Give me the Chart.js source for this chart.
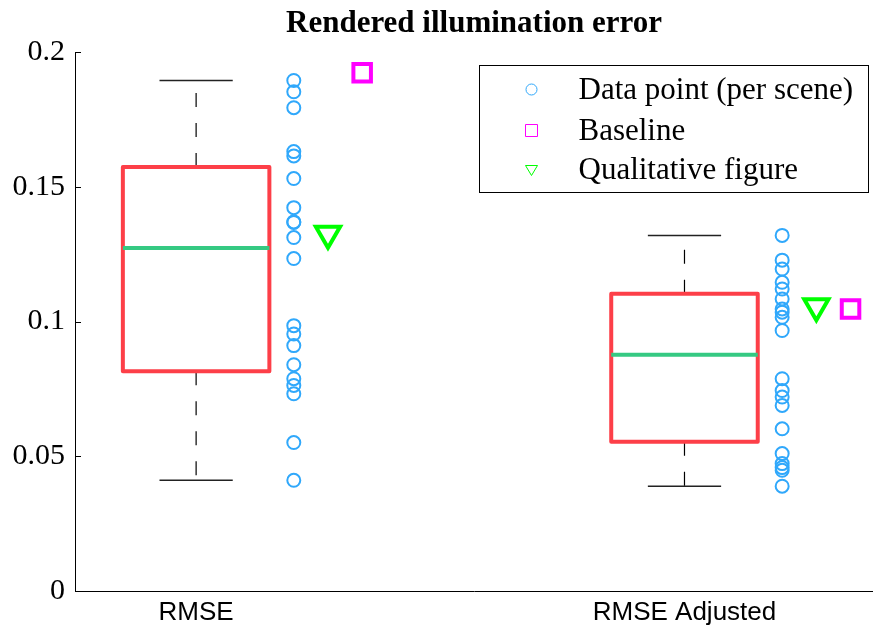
<!DOCTYPE html>
<html><head><meta charset="utf-8">
<script src="https://cdn.jsdelivr.net/npm/chart.js@4.4.0/dist/chart.umd.min.js"></script>
<style>html,body{margin:0;padding:0;background:#fff;overflow:hidden;}canvas{display:block;}</style>
</head><body><canvas id="c" width="873" height="630"></canvas>
<script>
const categories = ['RMSE', 'RMSE Adjusted'];
const rmsePoints = [0.1895, 0.1853, 0.1794, 0.1631, 0.1615, 0.1531, 0.1423, 0.1368, 0.1370, 0.1312,
                    0.1234, 0.0985, 0.0954, 0.0911, 0.0840, 0.0788, 0.0763, 0.0732, 0.0551, 0.0411];
const adjustedPoints = [0.1320, 0.1228, 0.1195, 0.1146, 0.1121, 0.1084, 0.1047, 0.1035, 0.1016, 0.0967,
                        0.0788, 0.0744, 0.0720, 0.0689, 0.0602, 0.0510, 0.0473, 0.0458, 0.0448, 0.0389];
const baselineValues = [0.1924, 0.1047];
const qualitativeValues = [0.1326, 0.1057];
const q1Values = [0.0816, 0.0554];
const medianValues = [0.1273, 0.0877];
const q3Values = [0.1574, 0.1103];
const whiskerLow = [0.0411, 0.0389];
const whiskerHigh = [0.1895, 0.1320];
const yTickValues = [0, 0.05, 0.1, 0.15, 0.2];
const yTickLabels = ['0', '0.05', '0.1', '0.15', '0.2'];
const seriesLabels = ['Data point (per scene)', 'Baseline', 'Qualitative figure'];

const BOX_HALF = 0.15, CAP_HALF = 0.075;
const OFF_POINTS = 0.2, OFF_QUAL = 0.27, OFF_BASE = 0.34;
const RED = '#fd3f48', GREEN_MED = '#35c982', BLUE = '#30a8fb', MAGENTA = '#ff00ff', LIME = '#00ff00';

const boxData = [], medData = [], whiskData = [], capData = [];
categories.forEach((c, i) => {
  const x = i + 1;
  boxData.push({x: x - BOX_HALF, y: q1Values[i]}, {x: x + BOX_HALF, y: q1Values[i]},
               {x: x + BOX_HALF, y: q3Values[i]}, {x: x - BOX_HALF, y: q3Values[i]},
               {x: x - BOX_HALF, y: q1Values[i]}, {x: x + 0.5, y: null});
  medData.push({x: x - BOX_HALF, y: medianValues[i]}, {x: x + BOX_HALF, y: medianValues[i]}, {x: x + 0.5, y: null});
  whiskData.push({x: x, y: q3Values[i]}, {x: x, y: whiskerHigh[i]}, {x: x + 0.5, y: null},
                 {x: x, y: q1Values[i]}, {x: x, y: whiskerLow[i]}, {x: x + 0.5, y: null});
  capData.push({x: x - CAP_HALF, y: whiskerHigh[i]}, {x: x + CAP_HALF, y: whiskerHigh[i]}, {x: x + 0.5, y: null},
               {x: x - CAP_HALF, y: whiskerLow[i]}, {x: x + CAP_HALF, y: whiskerLow[i]}, {x: x + 0.5, y: null});
});
const pointData = rmsePoints.map(v => ({x: 1 + OFF_POINTS, y: v}))
  .concat(adjustedPoints.map(v => ({x: 2 + OFF_POINTS, y: v})));
const baseData = baselineValues.map((v, i) => ({x: i + 1 + OFF_BASE, y: v}));
const qualData = qualitativeValues.map((v, i) => ({x: i + 1 + OFF_QUAL, y: v}));

const lineDefaults = {showLine: true, pointRadius: 0, pointHoverRadius: 0, fill: false, tension: 0, spanGaps: false};

const innerTicks = {
  id: 'innerTicks',
  afterDraw(chart) {
    const ctx = chart.ctx, y = chart.scales.y, ca = chart.chartArea;
    ctx.save();
    ctx.strokeStyle = '#000'; ctx.lineWidth = 1;
    y.ticks.forEach(t => {
      const py = Math.round(y.getPixelForValue(t.value)) + 0.5;
      ctx.beginPath(); ctx.moveTo(ca.left, py); ctx.lineTo(ca.left + 6, py); ctx.stroke();
    });
    ctx.restore();
  }
};

const boxLegend = {
  id: 'boxLegend',
  afterDraw(chart) {
    const ctx = chart.ctx, ca = chart.chartArea;
    const items = chart.data.datasets.filter(d => d.legendItem);
    const w = 389, h = 127;
    const left = Math.round(ca.right - 5 - w) + 0.5, top = Math.round(ca.top + 13) + 0.5;
    ctx.save();
    ctx.fillStyle = '#fff'; ctx.fillRect(left, top, w, h);
    ctx.strokeStyle = '#000'; ctx.lineWidth = 1; ctx.strokeRect(left, top, w, h);
    ctx.font = '31px "Liberation Serif", "Times New Roman", serif';
    ctx.textBaseline = 'middle'; ctx.textAlign = 'left';
    const rows = [24, 65, 104];
    items.forEach((d, k) => {
      const cy = top + rows[k], cx = left + 52;
      ctx.strokeStyle = d.borderColor; ctx.lineWidth = 1;
      ctx.beginPath();
      if (d.pointStyle === 'rect') {
        ctx.rect(cx - 6, cy - 6, 12, 12);
      } else if (d.pointStyle === 'triangle') {
        ctx.moveTo(cx - 6, cy - 4); ctx.lineTo(cx + 6, cy - 4); ctx.lineTo(cx, cy + 6); ctx.closePath();
      } else {
        ctx.arc(cx, cy, 5.5, 0, Math.PI * 2);
      }
      ctx.stroke();
      ctx.fillStyle = '#000';
      ctx.fillText(d.label, left + 99, cy + 1);
    });
    ctx.restore();
  }
};

new Chart(document.getElementById('c'), {
  type: 'scatter',
  data: {
    datasets: [
      Object.assign({label: 'median', data: medData, borderColor: GREEN_MED, borderWidth: 4, order: 1}, lineDefaults),
      Object.assign({label: 'box', data: boxData, borderColor: RED, borderWidth: 4, borderJoinStyle: 'round', borderCapStyle: 'round', order: 2}, lineDefaults),
      Object.assign({label: 'whisker', data: whiskData, borderColor: '#000', borderWidth: 1.2, borderDash: [14, 16], order: 3}, lineDefaults),
      Object.assign({label: 'cap', data: capData, borderColor: '#222', borderWidth: 1.5, order: 3}, lineDefaults),
      {label: seriesLabels[0], legendItem: true, data: pointData, pointStyle: 'circle', pointRadius: 6.5, pointHoverRadius: 6.5,
       borderColor: BLUE, backgroundColor: 'rgba(0,0,0,0)', borderWidth: 2, order: 0},
      {label: seriesLabels[1], legendItem: true, data: baseData, pointStyle: 'rect', pointRadius: 12.4, pointHoverRadius: 12.4,
       borderColor: MAGENTA, backgroundColor: 'rgba(0,0,0,0)', borderWidth: 4, order: 0},
      {label: seriesLabels[2], legendItem: true, data: qualData, pointStyle: 'triangle', rotation: 180, pointRadius: 14, pointHoverRadius: 14,
       borderColor: LIME, backgroundColor: 'rgba(0,0,0,0)', borderWidth: 4, order: 0}
    ]
  },
  options: {
    responsive: false, animation: false,
    layout: {padding: 0, autoPadding: false},
    plugins: {
      legend: {display: false}, tooltip: {enabled: false},
      title: {display: true, fullSize: false, text: 'Rendered illumination error', color: '#000',
              font: {family: '"Liberation Serif", "Times New Roman", serif', size: 31, weight: 'bold'},
              padding: {top: 5, bottom: 10}}
    },
    scales: {
      x: {
        type: 'linear', min: 0.752, max: 2.386,
        afterBuildTicks: s => { s.ticks = categories.map((c, i) => ({value: i + 1})); },
        afterFit: s => { s.height = 39; s.paddingLeft = 0; s.paddingRight = 0; },
        ticks: {callback: (v, i) => categories[i], color: '#000', padding: 6, maxRotation: 0, autoSkip: false,
                font: {family: '"Liberation Sans", Arial, sans-serif', size: 26}},
        grid: {display: false, drawTicks: false},
        border: {display: true, color: '#000', width: 1}
      },
      y: {
        type: 'linear', min: 0, max: 0.2,
        afterBuildTicks: s => { s.ticks = yTickValues.map(v => ({value: v})); },
        afterFit: s => { s.width = 75; s.paddingTop = 0; s.paddingBottom = 0; },
        ticks: {callback: (v, i) => yTickLabels[i], color: '#000', padding: 10,
                font: {family: '"Liberation Serif", "Times New Roman", serif', size: 30}},
        grid: {display: false, drawTicks: false},
        border: {display: true, color: '#000', width: 1}
      }
    }
  },
  plugins: [innerTicks, boxLegend]
});
</script></body></html>
